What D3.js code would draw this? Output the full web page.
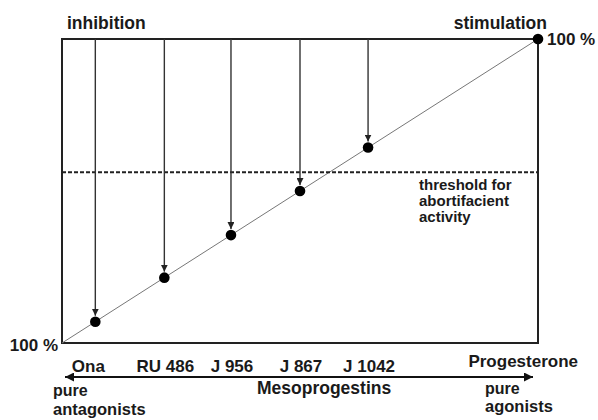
<!DOCTYPE html>
<html>
<head>
<meta charset="utf-8">
<script src="https://cdn.jsdelivr.net/npm/d3@7"></script>
<style>
  body { margin: 0; background: #fff; }
  svg text { font-family: "Liberation Sans", Arial, sans-serif; font-weight: bold; fill: #1a1a1a; }
</style>
</head>
<body>
<div id="chart"></div>
<script>
// compounds, from pure antagonist to pure agonist
const compounds = ["Ona", "RU 486", "J 956", "J 867", "J 1042", "Progesterone"];
// agonistic activity in %
const activity = [7, 21.5, 35.5, 50, 64.3, 100];
// abortifacient threshold, % of stimulation
const threshold = 56.2;

const W = 598, H = 420;
let margin = { top: 39, right: 60, bottom: 77, left: 62 };

const svg = d3.select("#chart").append("svg")
  .attr("width", W).attr("height", H);

const x = d3.scaleLinear().domain([0, 100]).range([margin.left, W - margin.right]);
const y = d3.scaleLinear().domain([0, 100]).range([H - margin.bottom, margin.top]);

const defs = svg.append("defs");
defs.append("marker")
  .attr("id", "tip")
  .attr("viewBox", "0 0 10 10")
  .attr("refX", 10).attr("refY", 5)
  .attr("markerWidth", 7).attr("markerHeight", 7)
  .attr("markerUnits", "userSpaceOnUse")
  .attr("orient", "auto")
  .append("path").attr("d", "M0,0L10,5L0,10Z").attr("fill", "#222");
defs.append("marker")
  .attr("id", "bigtip")
  .attr("viewBox", "0 0 10 10")
  .attr("refX", 10).attr("refY", 5)
  .attr("markerWidth", 12).attr("markerHeight", 9)
  .attr("markerUnits", "userSpaceOnUse")
  .attr("orient", "auto-start-reverse")
  .append("path").attr("d", "M0,0L10,5L0,10Z").attr("fill", "#111");

// frame
svg.append("rect")
  .attr("x", x(0)).attr("y", y(100))
  .attr("width", x(100) - x(0)).attr("height", y(0) - y(100))
  .attr("fill", "none").attr("stroke", "#222").attr("stroke-width", 2);

// diagonal
svg.append("line")
  .attr("x1", x(0)).attr("y1", y(0))
  .attr("x2", x(100)).attr("y2", y(100))
  .attr("stroke", "#777").attr("stroke-width", 1);

// threshold
svg.append("line")
  .attr("x1", x(0)).attr("x2", x(100))
  .attr("y1", y(threshold)).attr("y2", y(threshold))
  .attr("stroke", "#222").attr("stroke-width", 2)
  .attr("stroke-dasharray", "4,2");

const pts = compounds.map((c, i) => ({ name: c, v: activity[i] }));

// inhibition arrows
svg.selectAll(".arr")
  .data(pts.slice(0, 5))
  .enter().append("line")
  .attr("class", "arr")
  .attr("x1", d => x(d.v)).attr("x2", d => x(d.v))
  .attr("y1", y(100))
  .attr("y2", d => y(d.v) - 6)
  .attr("stroke", "#333").attr("stroke-width", 1.4)
  .attr("marker-end", "url(#tip)");

// dots
svg.selectAll(".dot")
  .data(pts)
  .enter().append("circle")
  .attr("class", "dot")
  .attr("cx", d => x(d.v)).attr("cy", d => y(d.v))
  .attr("r", 5.3).attr("fill", "#000");

// compound labels
svg.selectAll(".lab")
  .data(pts)
  .enter().append("text")
  .attr("class", "lab")
  .attr("x", (d, i) => i === 0 ? x(d.v) - 7 : i === pts.length - 1 ? x(d.v) + 40 : x(d.v) + 1)
  .attr("y", (d, i) => i === pts.length - 1 ? 367 : 372)
  .attr("text-anchor", (d, i) => i === pts.length - 1 ? "end" : "middle")
  .style("font-size", "17px")
  .text(d => d.name);

// double arrow
svg.append("line")
  .attr("x1", 65).attr("x2", 533)
  .attr("y1", 377).attr("y2", 377)
  .attr("stroke", "#111").attr("stroke-width", 2.2)
  .attr("marker-start", "url(#bigtip)")
  .attr("marker-end", "url(#bigtip)");

function label(txt, px, py, size, anchor) {
  svg.append("text")
    .attr("x", px).attr("y", py)
    .attr("text-anchor", anchor || "start")
    .style("font-size", size + "px")
    .text(txt);
}

label("inhibition", 67, 29, 17.5);
label("stimulation", 547, 29, 17.5, "end");
label("100 %", 547, 45, 17);
label("100 %", 58, 351, 17, "end");
label("threshold for", 419, 190, 15);
label("abortifacient", 419, 206, 15);
label("activity", 419, 222, 15);
label("Mesoprogestins", 257, 394, 17.5);
label("pure", 53, 396, 16);
label("antagonists", 53, 415, 16.5);
label("pure", 485, 394, 16);
label("agonists", 485, 412, 16.5);
</script>
</body>
</html>
